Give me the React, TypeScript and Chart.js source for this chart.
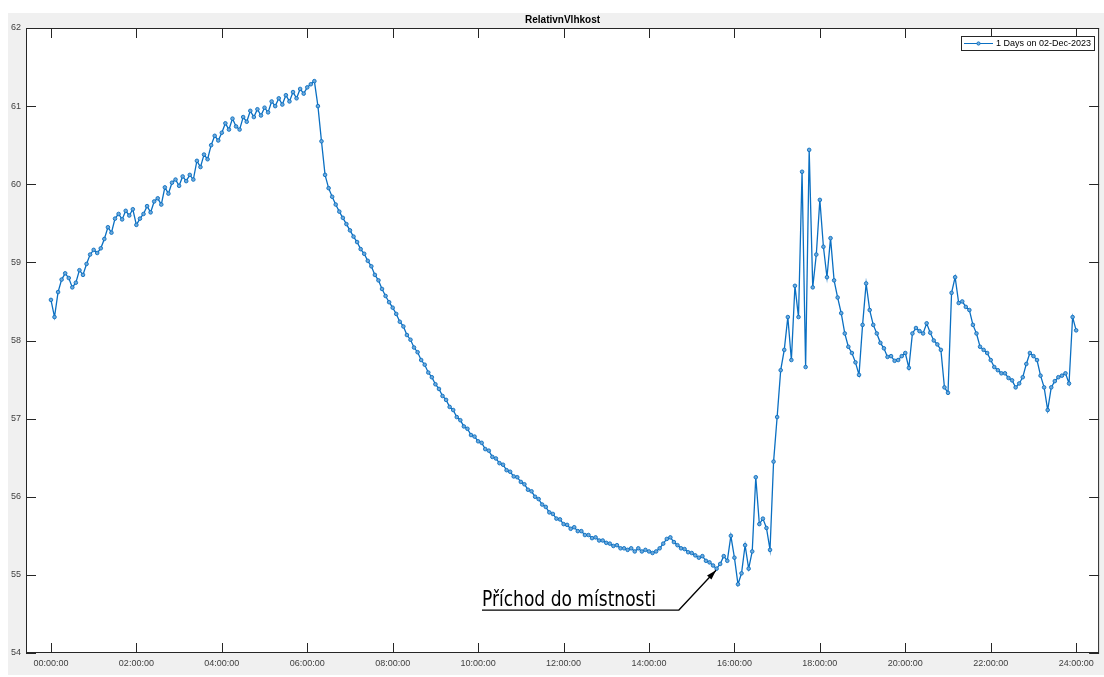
import React, { useEffect, useRef } from "react";
import { Chart, registerables } from "chart.js";

Chart.register(...registerables);

// ---------- data ----------
const chartTitle = "RelativnVlhkost";
const legendLabel = "1 Days on 02-Dec-2023";
const sampleStepMinutes = 5;

// relative humidity [%], one reading every 5 minutes from 00:00 to 24:00
const humidity: number[] = [
  58.52, 58.30, 58.62, 58.78, 58.86, 58.80, 58.68, 58.74, 58.90, 58.84, 58.98, 59.10,
  59.16, 59.12, 59.18, 59.30, 59.45, 59.38, 59.56, 59.62, 59.55, 59.66, 59.60, 59.68,
  59.48, 59.56, 59.62, 59.72, 59.64, 59.78, 59.82, 59.74, 59.96, 59.88, 60.02, 60.06,
  59.98, 60.10, 60.04, 60.12, 60.06, 60.30, 60.22, 60.38, 60.32, 60.50, 60.62, 60.56,
  60.66, 60.78, 60.70, 60.84, 60.74, 60.70, 60.86, 60.80, 60.94, 60.86, 60.96, 60.88,
  60.98, 60.92, 61.06, 61.00, 61.10, 61.02, 61.14, 61.06, 61.18, 61.10, 61.22, 61.16,
  61.24, 61.28, 61.32, 61.00, 60.55, 60.12, 59.95, 59.84, 59.74, 59.65, 59.57, 59.49,
  59.41, 59.33, 59.26, 59.17, 59.11, 59.02, 58.95, 58.84, 58.77, 58.66, 58.57, 58.49,
  58.42, 58.34, 58.24, 58.18, 58.07, 58.01, 57.91, 57.85, 57.75, 57.69, 57.59, 57.53,
  57.44, 57.38, 57.29, 57.24, 57.15, 57.11, 57.02, 56.98, 56.90, 56.87, 56.79, 56.77,
  56.71, 56.69, 56.61, 56.59, 56.51, 56.49, 56.43, 56.41, 56.34, 56.32, 56.26, 56.25,
  56.19, 56.16, 56.09, 56.07, 56.00, 55.97, 55.90, 55.87, 55.80, 55.78, 55.72, 55.71,
  55.65, 55.64, 55.59, 55.61, 55.56, 55.56, 55.51, 55.51, 55.47, 55.48, 55.44, 55.44,
  55.41, 55.40, 55.37, 55.38, 55.34, 55.34, 55.32, 55.34, 55.30, 55.34, 55.30, 55.32,
  55.30, 55.28, 55.30, 55.34, 55.40, 55.46, 55.48, 55.42, 55.38, 55.34, 55.33, 55.29,
  55.28, 55.25, 55.22, 55.24, 55.18, 55.16, 55.12, 55.08, 55.14, 55.24, 55.18, 55.50,
  55.22, 54.88, 55.02, 55.38, 55.08, 55.30, 56.25, 55.65, 55.72, 55.60, 55.32, 56.45,
  57.02, 57.62, 57.88, 58.30, 57.75, 58.70, 58.30, 60.16, 57.66, 60.44, 58.68, 59.10,
  59.80, 59.20, 58.81, 59.31, 58.77, 58.55, 58.35, 58.09, 57.92, 57.84, 57.72, 57.56,
  58.20, 58.73, 58.39, 58.20, 58.09, 57.97, 57.90, 57.79, 57.80, 57.74, 57.75, 57.80,
  57.84, 57.65, 58.09, 58.16, 58.12, 58.09, 58.22, 58.10, 58.00, 57.95, 57.88, 57.40,
  57.33, 58.61, 58.81, 58.48, 58.50, 58.43, 58.39, 58.20, 58.09, 57.92, 57.88, 57.84,
  57.75, 57.66, 57.62, 57.58, 57.58, 57.52, 57.49, 57.40, 57.45, 57.53, 57.70, 57.84,
  57.80, 57.75, 57.55, 57.40, 57.11, 57.40, 57.48, 57.53, 57.55, 57.58, 57.45, 58.30,
  58.13,
];

const xTickHours = [0, 2, 4, 6, 8, 10, 12, 14, 16, 18, 20, 22, 24];
const xTickLabels = [
  "00:00:00", "02:00:00", "04:00:00", "06:00:00", "08:00:00", "10:00:00", "12:00:00",
  "14:00:00", "16:00:00", "18:00:00", "20:00:00", "22:00:00", "24:00:00",
];
const yTicks = [54, 55, 56, 57, 58, 59, 60, 61, 62];
const xRange = [-0.584, 24.537];
const yRange = [54, 62];

const annotationText = "Příchod do místnosti";
const annotationTip = [15.57, 55.06]; // [hour, %]
const annotationTextStart = [10.09, 54.55]; // [hour, %]
const annotationElbowHour = 14.7;

// ---------- chart ----------
const FONT = "'Liberation Sans', Arial, sans-serif";
const LINE_COLOR = "#0a6fc2";

const framePlugin = {
  id: "matlabFrame",
  beforeDraw(chart: any) {
    const { ctx, width, height, chartArea: a } = chart;
    ctx.save();
    ctx.fillStyle = "#ffffff";
    ctx.fillRect(0, 0, width, height);
    ctx.fillStyle = "#f0f0f0";
    ctx.fillRect(8, 13, width - 8, height - 15);
    ctx.fillStyle = "#ffffff";
    ctx.fillRect(a.left, a.top, a.right - a.left, a.bottom - a.top);
    ctx.restore();
  },
  afterDraw(chart: any) {
    const { ctx, chartArea: a } = chart;
    const xs = chart.scales.x;
    const ys = chart.scales.y;
    ctx.save();

    // axes box
    ctx.strokeStyle = "#262626";
    ctx.lineWidth = 1;
    ctx.strokeRect(a.left + 0.5, a.top + 0.5, a.right - a.left - 1, a.bottom - a.top - 1);

    // inward tick marks
    const tl = 10;
    ctx.beginPath();
    xTickHours.forEach((v) => {
      const px = Math.round(xs.getPixelForValue(v)) + 0.5;
      ctx.moveTo(px, a.bottom);
      ctx.lineTo(px, a.bottom - tl);
      ctx.moveTo(px, a.top);
      ctx.lineTo(px, a.top + tl);
    });
    yTicks.forEach((v) => {
      const py = Math.round(ys.getPixelForValue(v)) + 0.5;
      ctx.moveTo(a.left, py);
      ctx.lineTo(a.left + tl, py);
      ctx.moveTo(a.right, py);
      ctx.lineTo(a.right - tl, py);
    });
    ctx.stroke();

    // title
    ctx.fillStyle = "#000000";
    ctx.font = `bold 10px ${FONT}`;
    ctx.textAlign = "center";
    ctx.textBaseline = "middle";
    ctx.fillText(chartTitle, (a.left + a.right) / 2, 20);

    // legend
    const lx = 961, ly = 36, lw = 133, lh = 14;
    ctx.fillStyle = "#ffffff";
    ctx.fillRect(lx, ly, lw, lh);
    ctx.strokeStyle = "#262626";
    ctx.lineWidth = 1;
    ctx.strokeRect(lx + 0.5, ly + 0.5, lw, lh);
    const my = ly + lh / 2 + 0.5;
    ctx.strokeStyle = LINE_COLOR;
    ctx.beginPath();
    ctx.moveTo(lx + 3, my);
    ctx.lineTo(lx + 32, my);
    ctx.stroke();
    ctx.beginPath();
    ctx.arc(lx + 17.5, my, 1.6, 0, Math.PI * 2);
    ctx.fillStyle = "#7fb3dd";
    ctx.fill();
    ctx.stroke();
    ctx.fillStyle = "#000000";
    ctx.font = `9px ${FONT}`;
    ctx.textAlign = "left";
    ctx.textBaseline = "middle";
    ctx.fillText(legendLabel, lx + 35, my);

    // annotation
    const tipX = xs.getPixelForValue(annotationTip[0]);
    const tipY = ys.getPixelForValue(annotationTip[1]);
    const startX = xs.getPixelForValue(annotationTextStart[0]);
    const lineY = ys.getPixelForValue(annotationTextStart[1]);
    const elbowX = xs.getPixelForValue(annotationElbowHour);

    ctx.strokeStyle = "#000000";
    ctx.lineWidth = 1.3;
    ctx.beginPath();
    ctx.moveTo(startX, lineY);
    ctx.lineTo(elbowX, lineY);
    ctx.lineTo(tipX, tipY);
    ctx.stroke();
    const ang = Math.atan2(tipY - lineY, tipX - elbowX);
    const ah = 10, aw = 3;
    ctx.fillStyle = "#000000";
    ctx.beginPath();
    ctx.moveTo(tipX, tipY);
    ctx.lineTo(
      tipX - ah * Math.cos(ang) + aw * Math.sin(ang),
      tipY - ah * Math.sin(ang) - aw * Math.cos(ang)
    );
    ctx.lineTo(
      tipX - ah * Math.cos(ang) - aw * Math.sin(ang),
      tipY - ah * Math.sin(ang) + aw * Math.cos(ang)
    );
    ctx.closePath();
    ctx.fill();

    ctx.font = `21px 'Liberation Sans Narrow', 'DejaVu Sans Condensed', ${FONT}`;
    ctx.textAlign = "left";
    ctx.textBaseline = "alphabetic";
    const targetW = 174;
    const w = ctx.measureText(annotationText).width;
    const sx = w > 0 ? targetW / w : 1;
    ctx.save();
    ctx.translate(startX, lineY - 4);
    ctx.scale(sx, 1);
    ctx.fillText(annotationText, 0, 0);
    ctx.restore();

    ctx.restore();
  },
};

export default function App() {
  const canvasRef = useRef<HTMLCanvasElement | null>(null);

  useEffect(() => {
    const canvas = canvasRef.current;
    if (!canvas) return;
    const points = humidity.map((v, i) => ({ x: (i * sampleStepMinutes) / 60, y: v }));

    const chart = new Chart(canvas, {
      type: "line",
      data: {
        datasets: [
          {
            label: legendLabel,
            data: points,
            borderColor: LINE_COLOR,
            borderWidth: 1.3,
            pointRadius: 1.8,
            pointBorderWidth: 0.9,
            pointBackgroundColor: "#6fa9da",
            pointBorderColor: LINE_COLOR,
            tension: 0,
            fill: false,
          },
        ],
      },
      options: {
        animation: false,
        responsive: false,
        devicePixelRatio: 1,
        layout: { padding: { left: 0, top: 28, right: 2, bottom: 0 } },
        plugins: {
          legend: { display: false },
          title: { display: false },
          tooltip: { enabled: false },
        },
        scales: {
          x: {
            type: "linear",
            min: xRange[0],
            max: xRange[1],
            grid: { display: false, drawTicks: false },
            border: { display: false },
            afterBuildTicks: (s: any) => {
              s.ticks = xTickHours.map((v) => ({ value: v }));
            },
            afterFit: (s: any) => {
              s.height = 24;
            },
            ticks: {
              autoSkip: false,
              maxRotation: 0,
              padding: 5,
              color: "#404040",
              font: { family: FONT, size: 9 },
              callback: (v: any) => {
                const i = xTickHours.indexOf(Number(v));
                return i >= 0 ? xTickLabels[i] : "";
              },
            },
          },
          y: {
            type: "linear",
            min: yRange[0],
            max: yRange[1],
            grid: { display: false, drawTicks: false },
            border: { display: false },
            afterBuildTicks: (s: any) => {
              s.ticks = yTicks.map((v) => ({ value: v }));
            },
            afterFit: (s: any) => {
              s.width = 26;
            },
            ticks: {
              padding: 5,
              color: "#404040",
              font: { family: FONT, size: 9 },
              callback: (v: any) => String(v),
            },
          },
        },
      },
      plugins: [framePlugin],
    });

    return () => chart.destroy();
  }, []);

  return (
    <div style={{ position: "absolute", left: 0, top: 0, width: 1104, height: 677 }}>
      <canvas ref={canvasRef} width={1104} height={677} style={{ display: "block" }} />
    </div>
  );
}
